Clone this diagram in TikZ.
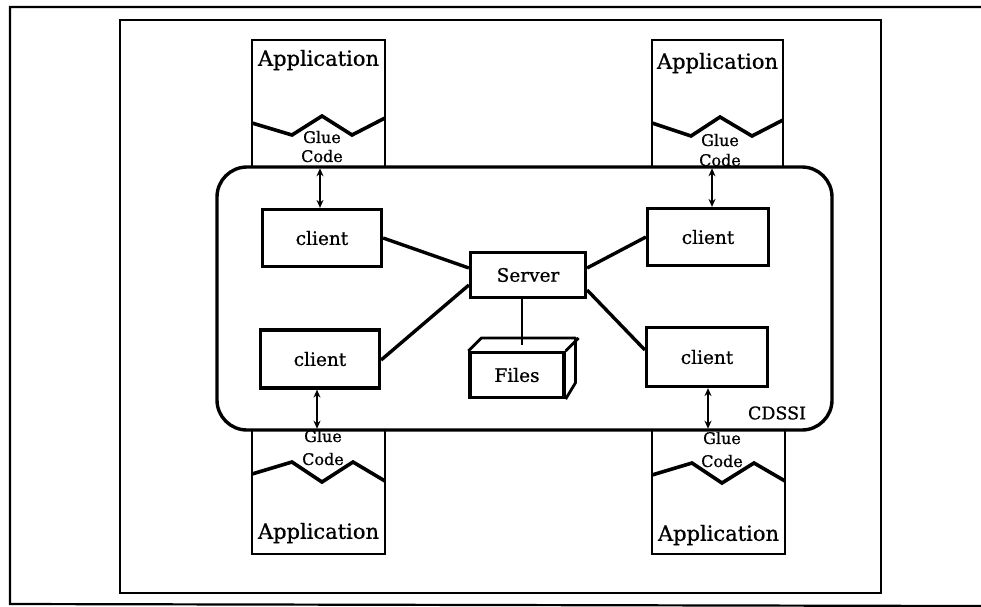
\documentclass[tikz,border=0pt]{standalone}
\usepackage{fontspec}
\setmainfont{DejaVu Serif}[FakeBold=0.8]
\usetikzlibrary{arrows.meta}

\tikzset{
  frame/.style={line width=2.2pt},
  appbox/.style={draw, line width=2.6pt, inner sep=0pt},
  zig/.style={line width=3.6pt, line join=miter},
  box/.style={draw, line width=3.2pt, inner sep=0pt},
  link/.style={line width=3.4pt},
  biarrow/.style={line width=2.6pt, {Stealth[length=8pt,width=7pt]}-{Stealth[length=8pt,width=7pt]}},
  apptext/.style={font=\fontsize{21}{21}\selectfont, inner sep=0pt},
  gluetext/.style={font=\fontsize{16}{16}\selectfont, inner sep=0pt},
  boxtext/.style={font=\fontsize{18.5}{18.5}\selectfont},
}

\begin{document}
\begin{tikzpicture}[x=1pt,y=-1pt]
  \useasboundingbox (0,0) rectangle (981,606);
  \clip (0,0) rectangle (981,606);

  % outer and inner frames
  \draw[frame] (981,7) -- (10,7) -- (10,604) -- (981,606);
  \draw[frame] (120,20) rectangle (881,593);

  % CDSSI region
  \draw[line width=3.4pt, rounded corners=30pt] (217,167) rectangle (832,430);
  \node[font=\fontsize{17.5}{17.5}\selectfont] (cdssi) at (777,413) {CDSSI};

  % application boxes with glue code
  \node[appbox, minimum width=133pt, minimum height=127pt] (appTL) at (318.5,103.5) {};
  \node[appbox, minimum width=131pt, minimum height=127pt] (appTR) at (717.5,103.5) {};
  \node[appbox, minimum width=133pt, minimum height=124pt] (appBL) at (318.5,492) {};
  \node[appbox, minimum width=133pt, minimum height=124pt] (appBR) at (718.5,492) {};

  \draw[zig] (252,123) -- (292,135) -- (322,116) -- (352,135) -- (385,118);
  \draw[zig] (652,123) -- (691,136) -- (720,117) -- (752,136) -- (783,120);
  \draw[zig] (252,474) -- (292,462) -- (322,482) -- (353,462) -- (385,481);
  \draw[zig] (652,475) -- (692,463) -- (722,483) -- (754,463) -- (785,481);

  \node[apptext] (tTL) at (318.5,60) {Application};
  \node[apptext] (tTR) at (717.5,63) {Application};
  \node[apptext] (tBL) at (318.5,533) {Application};
  \node[apptext] (tBR) at (718.5,535) {Application};

  \node[gluetext] (gTL1) at (322,137) {Glue};
  \node[gluetext] (gTL2) at (322,156) {Code};
  \node[gluetext] (gTR1) at (720,140) {Glue};
  \node[gluetext] (gTR2) at (720,160) {Code};
  \node[gluetext] (gBL1) at (323,436) {Glue};
  \node[gluetext] (gBL2) at (323,459) {Code};
  \node[gluetext] (gBR1) at (722,438) {Glue};
  \node[gluetext] (gBR2) at (722,461) {Code};

  % clients, server and files
  \node[box, boxtext, minimum width=119pt, minimum height=57pt] (cTL) at (322,238) {client};
  \node[box, boxtext, minimum width=121pt, minimum height=57pt] (cTR) at (708,237) {client};
  \node[box, boxtext, minimum width=119pt, minimum height=58pt] (cBL) at (320,359) {client};
  \node[box, boxtext, minimum width=121pt, minimum height=59pt] (cBR) at (707,357) {client};
  \node[box, boxtext, minimum width=115pt, minimum height=45pt] (srv) at (528,275) {Server};
  \node[box, boxtext, minimum width=94pt, minimum height=45pt] (files) at (517,375) {Files};
  \draw[line width=2.8pt, line join=round]
    (files.north west) -- ++(13,-13) -- ++(94,0) -- ++(0,45) -- (files.south east)
    (files.north east) -- ++(13,-13);

  % connections (yshift acts on the page, so positive means upwards)
  \draw[link] (cTL.east) -- ([yshift=7pt]srv.west);
  \draw[link] ([yshift=-1pt]cBL.east) -- ([yshift=-10pt]srv.west);
  \draw[link] (cTR.west) -- ([yshift=7pt]srv.east);
  \draw[link] ([yshift=7pt]cBR.west) -- ([yshift=-15pt]srv.east);
  \draw[line width=2.6pt] ([xshift=-6pt]srv.south) -- ([xshift=5pt,yshift=6pt]files.north);

  % glue code interfaces
  \draw[biarrow] ([xshift=-2pt]cTL.north) -- ([xshift=-2pt]cTL.north |- appTL.south);
  \draw[biarrow] ([xshift=4pt]cTR.north) -- ([xshift=4pt]cTR.north |- appTR.south);
  \draw[biarrow] ([xshift=-3pt]cBL.south) -- ([xshift=-3pt]cBL.south |- appBL.north);
  \draw[biarrow] ([xshift=1pt]cBR.south) -- ([xshift=1pt]cBR.south |- appBR.north);
\end{tikzpicture}
\end{document}
